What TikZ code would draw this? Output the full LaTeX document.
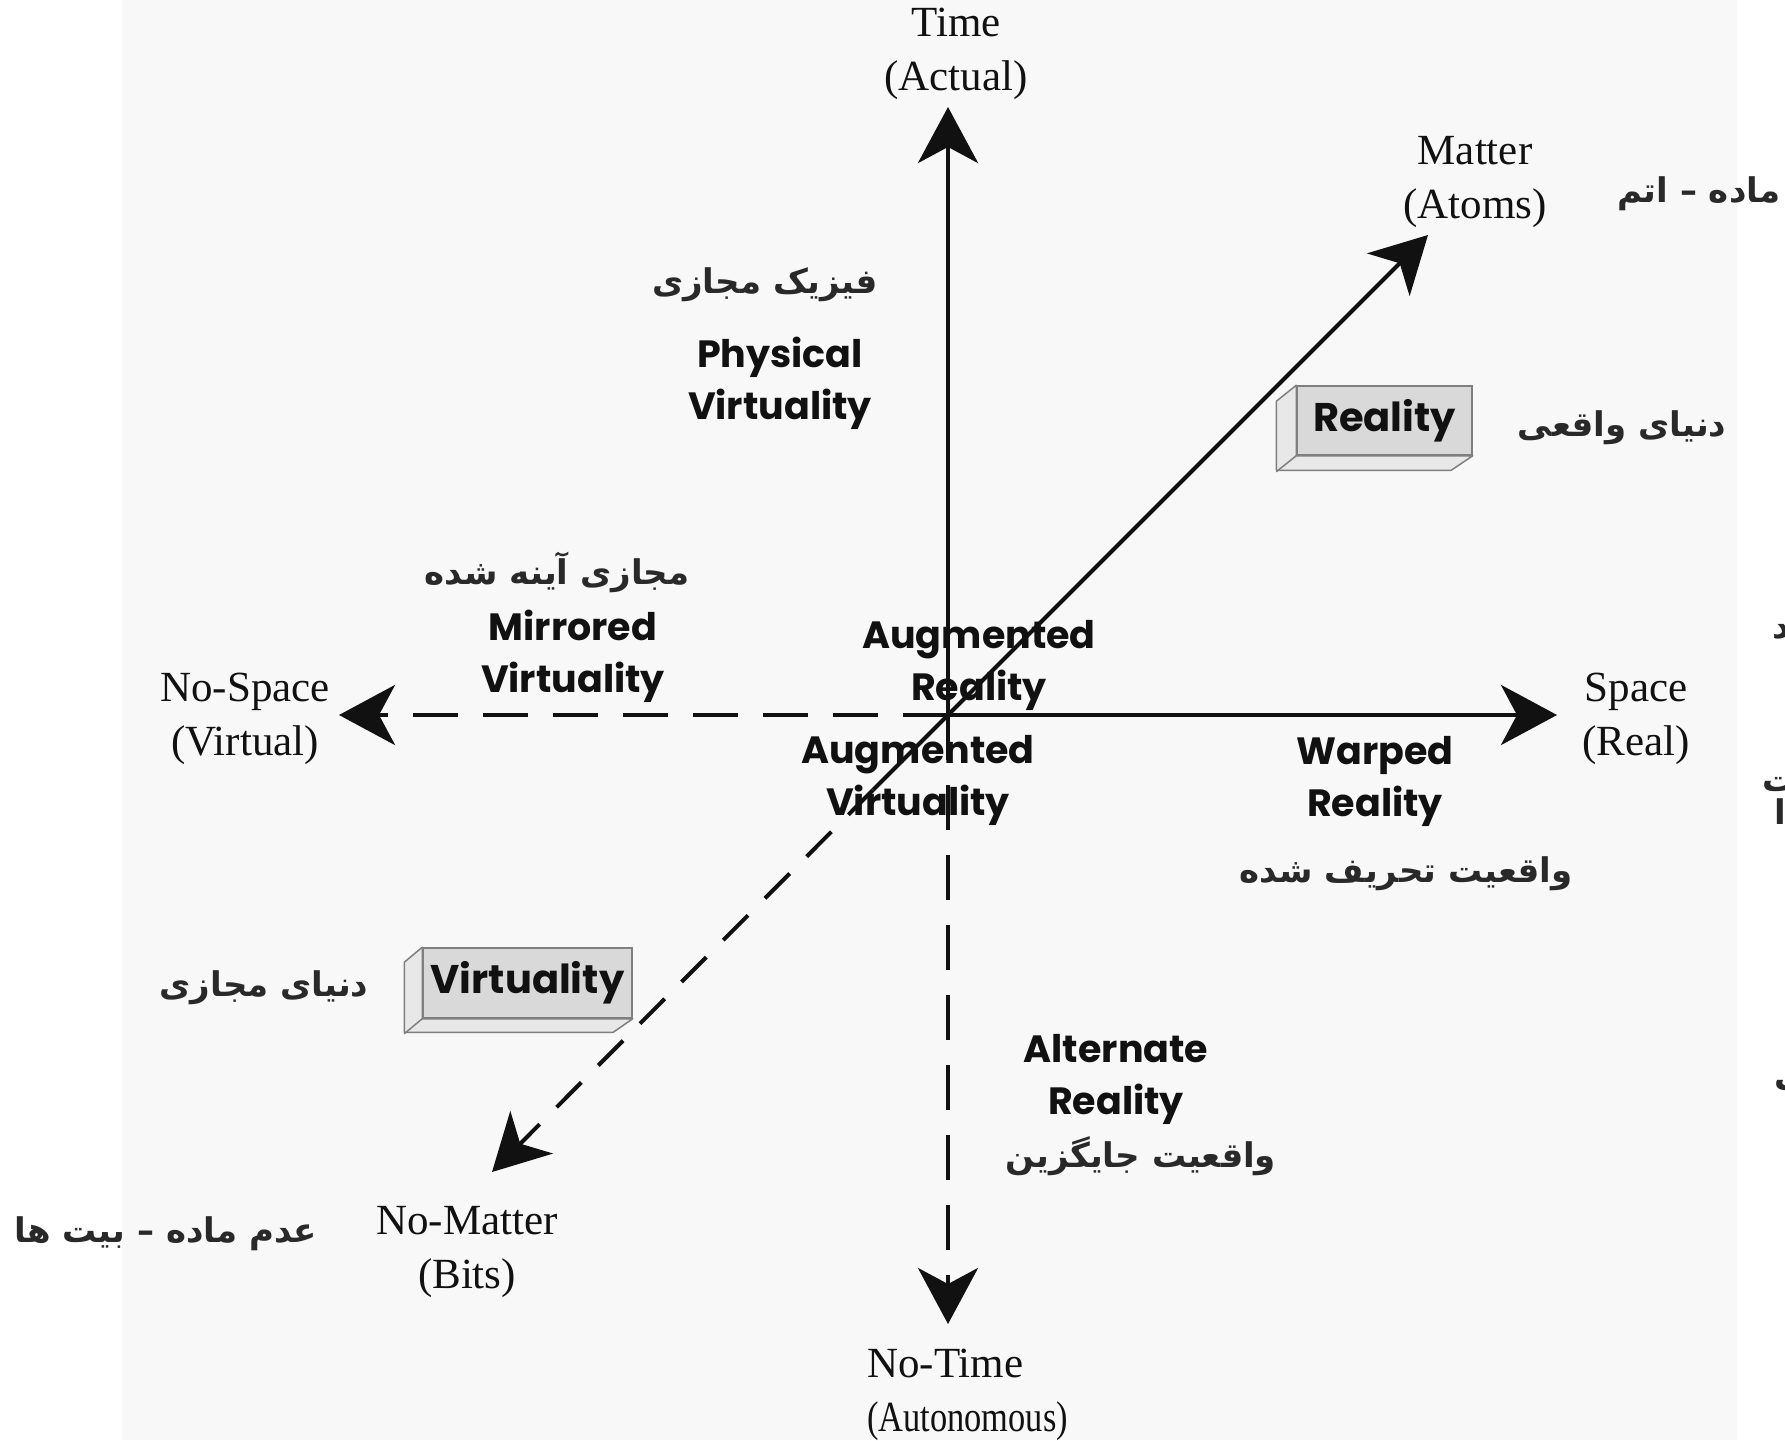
\documentclass[tikz,border=0pt]{standalone}
\usepackage{fontspec}
\setmainfont{Liberation Serif}
\newfontfamily\fa[Script=Arabic]{DejaVu Sans}
\newfontfamily\geo{Poppins}
\TeXXeTstate=1
\usetikzlibrary{arrows.meta}

\definecolor{paper}{HTML}{F8F8F8}
\definecolor{slabfront}{HTML}{D9D9D9}
\definecolor{slabface}{HTML}{E8E8E8}
\definecolor{slabline}{HTML}{7F7F7F}
\definecolor{ink}{HTML}{111111}

\tikzset{
  tip/.style={-{Stealth[length=56pt,width=60pt,inset=16pt]}},
  axis/.style={line width=4.5pt, draw=ink, tip},
  axisdash/.style={axis, dash pattern=on 45pt off 25pt},
  diag/.style={line width=4pt, draw=ink},
  diagdash/.style={diag, tip, dash pattern=on 35pt off 24pt},
  pole/.style={font=\fontsize{43}{54}\selectfont, align=center, inner sep=0pt, text=ink},
  zone/.style={font=\geo\bfseries\fontsize{38}{52}\selectfont, align=center, inner sep=0pt, text=ink},
  fatext/.style={font=\fa\bfseries\fontsize{34}{40}\selectfont, inner sep=0pt, text=ink!90},
  slab/.style={draw=slabline, fill=slabfront, line width=1.5pt, inner sep=0pt,
    font=\geo\bfseries\fontsize{40}{44}\selectfont, text=ink},
  slabside/.style={draw=slabline, fill=slabface, line width=1.5pt, line join=round},
}

\begin{document}
\begin{tikzpicture}[x=1pt, y=-1pt]
  \useasboundingbox (0,0) rectangle (1785,1440);
  \clip (0,0) rectangle (1785,1440);
  \fill[white] (0,0) rectangle (1785,1440);
  \fill[paper] (122,0) rectangle (1737,1440);

  % axis ends
  \coordinate (O) at (948,715);
  \coordinate (tTime) at (948,107);
  \coordinate (tNoTime) at (948,1324);
  \coordinate (tSpace) at (1557,715);
  \coordinate (tNoSpace) at (339,715);
  \coordinate (tMatter) at (1428,235);
  \coordinate (tNoMatter) at (492,1172);
  \coordinate (split) at (873,790);

  % pole labels
  \node[pole] (time) at (956,54) {Time\\(Actual)};
  \node[pole] (matter) at (1475,182) {Matter\\(Atoms)};
  \node[pole] (space) at (1636,719) {Space\\(Real)};
  \node[pole] (nospace) at (245,719) {No-Space\\(Virtual)};
  \node[pole] (nomatter) at (467,1252) {No-Matter\\(Bits)};
  \node[pole, align=left, anchor=west] (notime) at (867,1395)
    {No-Time\\\scalebox{0.8}[1]{(Autonomous)}};

  % region labels
  \node[zone] (phys) at (780,383) {Physical\\Virtuality};
  \node[zone] (mirr) at (573,656) {Mirrored\\Virtuality};
  \node[zone] (augr) at (979,665) {Augmented\\Reality};
  \node[zone] (augv) at (918,780) {Augmented\\Virtuality};
  \node[zone] (warp) at (1375,781) {Warped\\Reality};
  \node[zone] (alt) at (1116,1079) {Alternate\\Reality};

  % Persian labels
  \node[fatext] (faphys) at (765,285) {\beginR فیزیک مجازی\endR};
  \node[fatext] (famirr) at (557,572) {\beginR مجازی آینه شده\endR};
  \node[fatext] (fareal) at (1622,428) {\beginR دنیای واقعی\endR};
  \node[fatext] (fawarp) at (1406,874) {\beginR واقعیت تحریف شده\endR};
  \node[fatext] (favirt) at (264,988) {\beginR دنیای مجازی\endR};
  \node[fatext] (faalt) at (1141,1156) {\beginR واقعیت جایگزین\endR};
  \node[fatext] (fabits) at (166,1234) {\beginR عدم ماده – بیت ها\endR};
  \node[fatext, anchor=west] (faatom) at (1617,194) {\beginR ماده – اتم\endR};
  % pieces of words running past the right edge
  \node[fatext, anchor=west] (fafr1) at (1772,632) {\beginR د\endR};
  \node[fatext, anchor=west] (fafr2) at (1762,785) {\beginR ت\endR};
  \node[fatext, anchor=west] (fafr3) at (1774,812) {\beginR ا\endR};
  \node[fatext, anchor=west] (fafr4) at (1774,1087) {\beginR ب\endR};

  % raised slabs
  \node[slab, minimum width=175pt, minimum height=69pt] (reality) at (1384.5,420.5) {Reality};
  \draw[slabside] (reality.north west) -- ++(-20,16) -- ++(0,69) -- ++(175,0)
    -- (reality.south east) -- (reality.south west) -- cycle;
  \draw[slabline, line width=1.5pt] (reality.south west) -- ++(-20,16);
  \node[slab, minimum width=209pt, minimum height=70pt] (virtuality) at (527.5,983) {Virtuality};
  \draw[slabside] (virtuality.north west) -- ++(-18,15) -- ++(0,70) -- ++(209,0)
    -- (virtuality.south east) -- (virtuality.south west) -- cycle;
  \draw[slabline, line width=1.5pt] (virtuality.south west) -- ++(-18,15);

  % axes
  \draw[axis] (O) -- (tTime);
  \draw[axis] (O) -- (tSpace);
  \draw[axisdash] (O) -- (tNoSpace);
  \draw[axisdash] (O) -- (tNoTime);
  \draw[diag, tip] (split) -- (tMatter);
  \draw[diagdash] (split) -- (tNoMatter);
\end{tikzpicture}
\end{document}
